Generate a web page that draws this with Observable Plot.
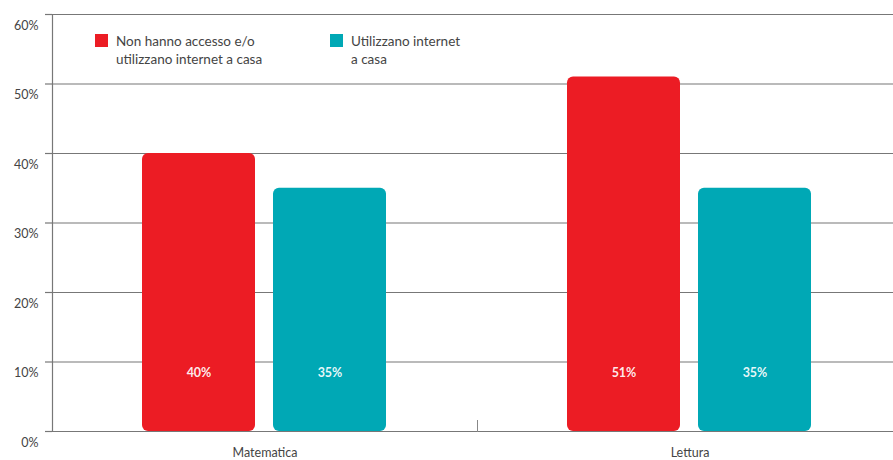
<!DOCTYPE html>
<html>
<head>
<meta charset="utf-8">
<script src="https://cdn.jsdelivr.net/npm/d3@7"></script>
<script src="https://cdn.jsdelivr.net/npm/@observablehq/plot@0.6"></script>
<style>
  html, body { margin: 0; padding: 0; background: #fff; }
  #wrap { position: relative; width: 893px; height: 460px; font-family: Lato, "Open Sans", sans-serif; }
  .leg { position: absolute; display: flex; align-items: flex-start; font-size: 13.5px; line-height: 18px; color: #444; }
  .sw { width: 13px; height: 13px; margin-right: 8px; margin-top: 2px; flex: none; }
</style>
</head>
<body>
<div id="wrap"></div>
<script>
const subjects = ["Matematica", "Lettura"];
const groups = ["Non hanno accesso e/o utilizzano internet a casa", "Utilizzano internet a casa"];
const groupLines = [["Non hanno accesso e/o", "utilizzano internet a casa"], ["Utilizzano internet", "a casa"]];
const colors = ["#ec1c24", "#00a8b5"];
const noAccess = [40, 51];
const useInternet = [35, 35];
const yTicks = [0, 10, 20, 30, 40, 50, 60];

const data = subjects.flatMap((s, i) => [
  {subject: s, group: groups[0], value: noAccess[i]},
  {subject: s, group: groups[1], value: useInternet[i]}
]);

const font = "Lato, 'Open Sans', sans-serif";

const chart = Plot.plot({
  width: 893,
  height: 460,
  marginTop: 14,
  marginBottom: 29,
  marginLeft: 52,
  marginRight: -9,
  style: {fontFamily: font, fontSize: "12px", color: "#444", background: "#fff"},
  fx: {domain: subjects, padding: 0, axis: null, label: null},
  x: {domain: groups, paddingInner: 0.137, paddingOuter: 0.69, axis: null},
  y: {domain: [0, 60], axis: null},
  color: {domain: groups, range: colors},
  marks: [
    Plot.ruleY(yTicks, {stroke: "#777", strokeWidth: 1.2}),
    Plot.frame({anchor: "left", facetAnchor: "left", stroke: "#777", strokeWidth: 1.2}),
    Plot.frame({anchor: "left", facetAnchor: "right", insetTop: 406, stroke: "#888", strokeWidth: 1}),
    Plot.axisY({ticks: yTicks, tickSize: 7, stroke: "#777", strokeWidth: 1.2, tickFormat: () => "", label: null}),
    Plot.axisY({ticks: yTicks, tickSize: 0, tickPadding: 14, dy: 11, tickFormat: d => d + "%", fontSize: 12.5, fill: "#444", label: null}),
    Plot.barY(data, {fx: "subject", x: "group", y: "value", fill: "group", rx: 6}),
    Plot.text(data, {fx: "subject", x: "group", text: d => d.value + "%", frameAnchor: "bottom", dy: -55, fill: "#fff", fillOpacity: 0.92, fontWeight: "bold", fontSize: 12.5}),
    Plot.axisFx({anchor: "bottom", tickSize: 0, tickPadding: 17, fontSize: 12.5, fill: "#444", label: null})
  ]
});

const wrap = document.getElementById("wrap");
wrap.appendChild(chart);

const legPos = [{left: 95, top: 32}, {left: 330, top: 32}];
groups.forEach((g, i) => {
  const d = document.createElement("div");
  d.className = "leg";
  d.style.left = legPos[i].left + "px";
  d.style.top = legPos[i].top + "px";
  const sw = document.createElement("div");
  sw.className = "sw";
  sw.style.background = colors[i];
  const t = document.createElement("div");
  t.innerHTML = groupLines[i].join("<br>");
  d.appendChild(sw);
  d.appendChild(t);
  wrap.appendChild(d);
});
</script>
</body>
</html>
